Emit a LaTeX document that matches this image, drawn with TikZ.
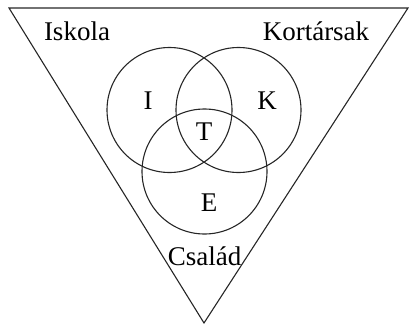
\documentclass[tikz,border=0pt]{standalone}
\usepackage{fontspec}
\setmainfont{Liberation Serif}
\begin{document}
\begin{tikzpicture}[x=1pt,y=-1pt,
  lbl/.style={inner sep=0pt,font=\fontsize{27}{29}\selectfont},
  ln/.style={line width=1.1pt,draw=black!85}]
\useasboundingbox (0,0) rectangle (413,324);
\coordinate (A) at (9,8);
\coordinate (B) at (408,8);
\coordinate (C) at (204,323);
\draw[ln] (A) -- (B) -- (C) -- cycle;
\node[ln,circle,minimum size=125pt,inner sep=0pt] (ci) at (169.5,110) {};
\node[ln,circle,minimum size=125pt,inner sep=0pt] (ck) at (238.5,110) {};
\node[ln,circle,minimum size=125pt,inner sep=0pt] (ce) at (204.5,171.5) {};
\node[lbl] (isk) at (77,31) {Iskola};
\node[lbl] (kor) at (316,31) {Kortársak};
\node[lbl] (csa) at (204.5,256) {Család};
\node[lbl] (i) at (148,101) {I};
\node[lbl] (k) at (267,101) {K};
\node[lbl] (t) at (204,132) {T};
\node[lbl] (e) at (209,203) {E};
\end{tikzpicture}
\end{document}
